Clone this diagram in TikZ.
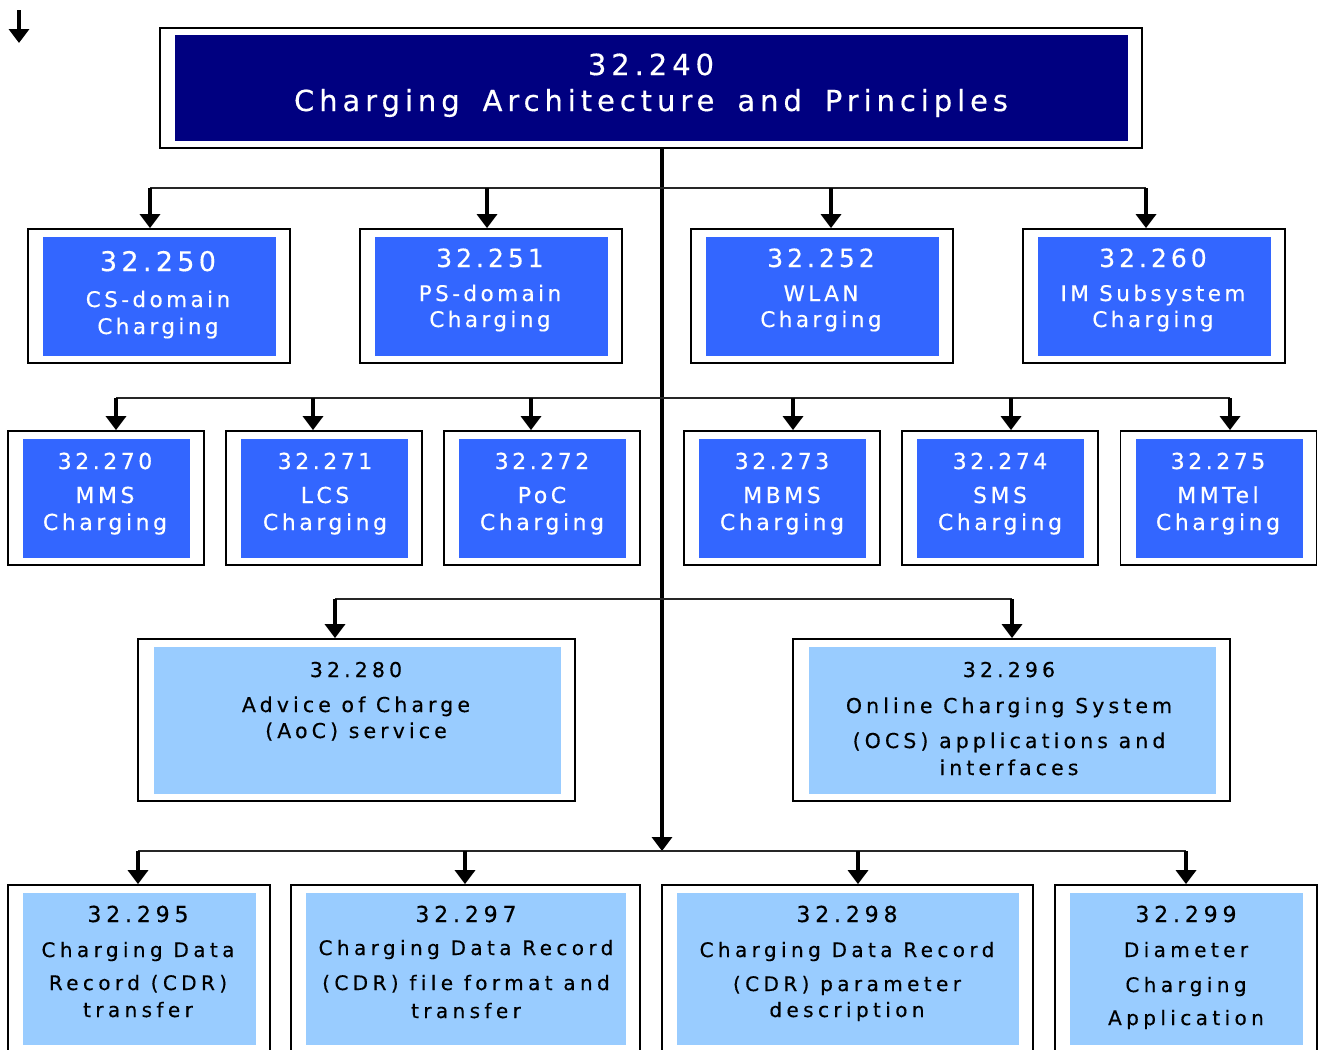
\documentclass[tikz,border=0pt]{standalone}
\usepackage{fontspec}
\setmainfont{DejaVu Sans}
\newfontfamily\fT[LetterSpace=17,FakeBold=0.4,Ligatures=NoCommon]{DejaVu Sans}
\newfontfamily\fA[LetterSpace=16,FakeBold=0.4,Ligatures=NoCommon]{DejaVu Sans}
\newfontfamily\fB[LetterSpace=20,FakeBold=0.4,Ligatures=NoCommon]{DejaVu Sans}
\newfontfamily\fC[LetterSpace=22,FakeBold=0.4,Ligatures=NoCommon]{DejaVu Sans}
\usetikzlibrary{arrows.meta}
\definecolor{navyT}{HTML}{000080}
\definecolor{blueA}{HTML}{3366FF}
\definecolor{blueL}{HTML}{99CCFF}
\tikzset{
  outerbox/.style={draw=black, line width=1.8pt, fill=white, inner sep=0pt, rectangle},
  innerbox/.style={draw=none, inner sep=0pt, rectangle},
  tw/.style={anchor=base, text=white, inner sep=0pt},
  tk/.style={anchor=base, text=black, inner sep=0pt},
  bus/.style={line width=1.3pt, draw=black!85},
  arr/.style={line width=3.8pt, -{Triangle[width=20pt,length=14pt]}},
  trunkline/.style={line width=3.8pt, -{Triangle[width=20pt,length=14pt]}},
}
\newcommand{\szT}{\fT\fontsize{29}{29}\selectfont}
\newcommand{\szNa}{\fA\fontsize{27}{27}\selectfont}
\newcommand{\szNb}{\fA\fontsize{25}{25}\selectfont}
\newcommand{\szRa}{\fA\fontsize{21.5}{21.5}\selectfont}
\newcommand{\szRb}{\fA\fontsize{22}{22}\selectfont}
\newcommand{\szRc}{\fB\fontsize{20.5}{20.5}\selectfont}
\newcommand{\szRd}{\fC\fontsize{22}{22}\selectfont}
\newcommand{\szRe}{\fC\fontsize{20}{20}\selectfont}
\begin{document}
\begin{tikzpicture}[x=1pt,y=-1pt]
\clip (0,0) rectangle (1318,1050);
\fill[white] (0,0) rectangle (1318,1050);

% little arrow top-left
\coordinate (la0) at (19,10);
\coordinate (la1) at (19,43);
\draw[arr] (la0) -- (la1);

% title
\node[outerbox, minimum width=982pt, minimum height=120pt] (btitle) at (651,88) {};
\node[innerbox, fill=navyT, minimum width=953pt, minimum height=106pt] (ititle) at (651.5,88) {};
\node[tw, font=\szT] (ttitlea) at (651,75) {32.240};
\node[tw, font=\szT] (ttitleb) at (651,111) {Charging\hspace{23pt}Architecture\hspace{23pt}and\hspace{23pt}Principles};

% trunk
\coordinate (tr1) at (662,851);
\draw[trunkline] (tr1 |- btitle.south) -- (tr1);

% ---------- row 1 ----------
\foreach \n/\cx in {250/159, 251/491, 252/822, 260/1154}{
  \node[outerbox, minimum width=262pt, minimum height=134pt] (b\n) at (\cx,296) {};
  \node[innerbox, fill=blueA, minimum width=233pt, minimum height=119pt] (i\n) at (\cx+0.5,296.5) {};
}
\node[tw, font=\szNa] (t250a) at (158,271) {32.250};
\node[tw, font=\szRa] (t250b) at (158,307) {CS-domain};
\node[tw, font=\szRa] (t250c) at (158,334) {Charging};
\node[tw, font=\szNb] (t251a) at (490,267) {32.251};
\node[tw, font=\szRa] (t251b) at (490,301) {PS-domain};
\node[tw, font=\szRa] (t251c) at (490,327) {Charging};
\node[tw, font=\szNb] (t252a) at (821,267) {32.252};
\node[tw, font=\szRa] (t252b) at (821,301) {WLAN};
\node[tw, font=\szRa] (t252c) at (821,327) {Charging};
\node[tw, font=\szNb] (t260a) at (1153,267) {32.260};
\node[tw, font=\szRa] (t260b) at (1153,301) {IM Subsystem};
\node[tw, font=\szRa] (t260c) at (1153,327) {Charging};

\coordinate (bus1l) at (150,188);
\coordinate (bus1r) at (1146,188);
\draw[bus] (bus1l) -- (bus1r);
\foreach \n/\ax in {250/150, 251/487, 252/831, 260/1146}{
  \coordinate (a\n) at (\ax,188);
  \draw[arr] (a\n) -- (a\n |- b\n.north);
}

% ---------- row 2 ----------
\foreach \n/\cx in {270/106, 271/324, 272/542, 273/782, 274/1000, 275/1218.5}{
  \node[outerbox, minimum width=196pt, minimum height=134pt] (b\n) at (\cx,498) {};
  \node[innerbox, fill=blueA, minimum width=167pt, minimum height=119pt] (i\n) at (\cx+0.5,498.5) {};
}
\foreach \n/\cx/\nm in {270/105/MMS, 271/325/LCS, 272/542/PoC, 273/782/MBMS, 274/1000/SMS, 275/1218/MMTel}{
  \node[tw, font=\szRb] (t\n a) at (\cx,469) {32.\n};
  \node[tw, font=\szRb] (t\n b) at (\cx,503) {\nm};
  \node[tw, font=\szRb] (t\n c) at (\cx,530) {Charging};
}
\coordinate (bus2l) at (116,398);
\coordinate (bus2r) at (1230,398);
\draw[bus] (bus2l) -- (bus2r);
\foreach \n/\ax in {270/116, 271/313, 272/531, 273/793, 274/1011, 275/1230}{
  \coordinate (a\n) at (\ax,398);
  \draw[arr] (a\n) -- (a\n |- b\n.north);
}

% ---------- row 3 ----------
\foreach \n/\cx in {280/356.5, 296/1011.5}{
  \node[outerbox, minimum width=437pt, minimum height=162pt] (b\n) at (\cx,720) {};
  \node[innerbox, fill=blueL, minimum width=407pt, minimum height=147pt] (i\n) at (\cx+1,720.5) {};
}
\node[tk, font=\szRc] (t280a) at (356,677) {32.280};
\node[tk, font=\szRc] (t280b) at (356,712) {Advice of Charge};
\node[tk, font=\szRc] (t280c) at (356,738) {(AoC) service};
\node[tk, font=\szRc] (t296a) at (1009,677) {32.296};
\node[tk, font=\szRc] (t296b) at (1009,713) {Online Charging System};
\node[tk, font=\szRc] (t296c) at (1009,748) {(OCS) applications and};
\node[tk, font=\szRc] (t296d) at (1009,775) {interfaces};
\coordinate (bus3l) at (335,599);
\coordinate (bus3r) at (1012,599);
\draw[bus] (bus3l) -- (bus3r);
\foreach \n/\ax in {280/335, 296/1012}{
  \coordinate (a\n) at (\ax,599);
  \draw[arr] (a\n) -- (a\n |- b\n.north);
}

% ---------- row 4 ----------
\foreach \n/\cx/\wo/\wi in {295/139/262/233, 297/465.5/349/320, 298/847.5/371/342, 299/1186/262/233}{
  \node[outerbox, minimum width=\wo pt, minimum height=168pt] (b\n) at (\cx,969) {};
  \node[innerbox, fill=blueL, minimum width=\wi pt, minimum height=152pt] (i\n) at (\cx,969) {};
}
\node[tk, font=\szRd] (t295a) at (138,922) {32.295};
\node[tk, font=\szRe] (t295b) at (138,957) {Charging Data};
\node[tk, font=\szRe] (t295c) at (138,990) {Record (CDR)};
\node[tk, font=\szRe] (t295d) at (138,1017) {transfer};
\node[tk, font=\szRd] (t297a) at (466,922) {32.297};
\node[tk, font=\szRe] (t297b) at (466,955) {Charging Data Record};
\node[tk, font=\szRe] (t297c) at (466,990) {(CDR) file format and};
\node[tk, font=\szRe] (t297d) at (466,1018) {transfer};
\node[tk, font=\szRd] (t298a) at (847,922) {32.298};
\node[tk, font=\szRe] (t298b) at (847,957) {Charging Data Record};
\node[tk, font=\szRe] (t298c) at (847,991) {(CDR) parameter};
\node[tk, font=\szRe] (t298d) at (847,1017) {description};
\node[tk, font=\szRd] (t299a) at (1186,922) {32.299};
\node[tk, font=\szRe] (t299b) at (1186,957) {Diameter};
\node[tk, font=\szRe] (t299c) at (1186,992) {Charging};
\node[tk, font=\szRe] (t299d) at (1186,1025) {Application};
\coordinate (bus4l) at (138,851);
\coordinate (bus4r) at (1186,851);
\draw[bus] (bus4l) -- (bus4r);
\foreach \n/\ax in {295/138, 297/465, 298/858, 299/1186}{
  \coordinate (a\n) at (\ax,851);
  \draw[arr] (a\n) -- (a\n |- b\n.north);
}
\end{tikzpicture}
\end{document}
